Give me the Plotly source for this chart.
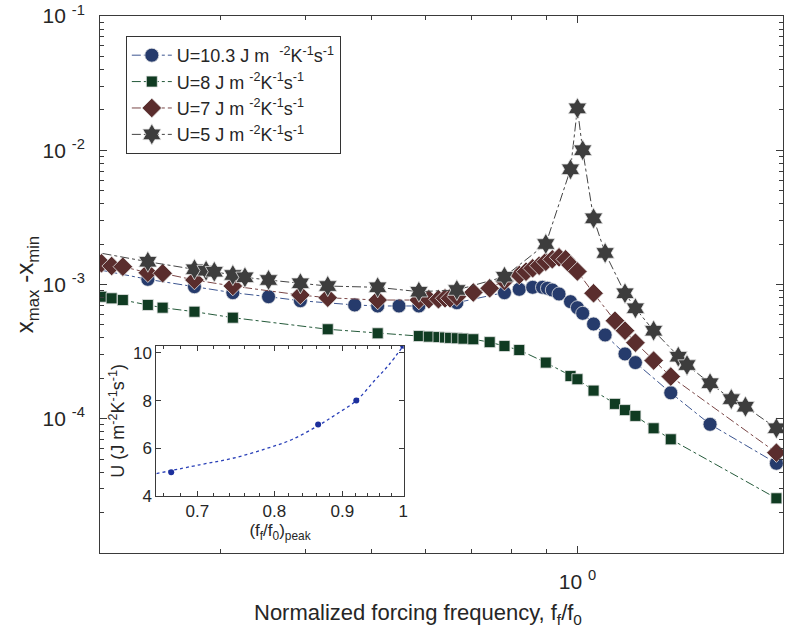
import numpy as np
import plotly.graph_objects as go

# ---------------- main data ----------------
f_u103 = [0.19, 0.235, 0.275, 0.313, 0.353, 0.393, 0.472, 0.510, 0.548, 0.586, 0.666, 0.782, 0.822, 0.860,
          0.889, 0.904, 0.919, 0.940, 0.977, 1.0, 1.018, 1.056, 1.098, 1.174, 1.216, 1.370, 1.564, 1.956]
a_u103 = [1.35, 1.093, 0.963, 0.869, 0.811, 0.757, 0.704, 0.692, 0.692, 0.692, 0.732, 0.869, 0.921, 0.953,
          0.953, 0.937, 0.910, 0.850, 0.745, 0.672, 0.610, 0.508, 0.421, 0.304, 0.262, 0.156, 0.0909, 0.0466]

f_u8 = [0.201, 0.208, 0.216, 0.235, 0.247, 0.275, 0.313, 0.431, 0.510, 0.586, 0.606, 0.626, 0.640, 0.651,
        0.666, 0.681, 0.704, 0.744, 0.782, 0.822, 0.899, 0.977, 1.0, 1.056, 1.135, 1.174, 1.216, 1.293, 1.370, 1.956]
a_u8 = [0.811, 0.789, 0.766, 0.704, 0.672, 0.627, 0.566, 0.464, 0.433, 0.413, 0.409, 0.406, 0.403, 0.400,
        0.398, 0.395, 0.391, 0.372, 0.348, 0.325, 0.262, 0.208, 0.197, 0.162, 0.129, 0.116, 0.105, 0.0849, 0.0703, 0.02555]

f_u7 = [0.201, 0.208, 0.216, 0.235, 0.247, 0.275, 0.313, 0.393, 0.431, 0.510, 0.586, 0.606, 0.626, 0.640,
        0.651, 0.666, 0.704, 0.744, 0.782, 0.822, 0.841, 0.860, 0.879, 0.899, 0.919, 0.940, 0.961, 0.977,
        1.0, 1.056, 1.135, 1.174, 1.216, 1.293, 1.370, 1.956]
a_u7 = [1.438, 1.373, 1.357, 1.224, 1.212, 1.080, 0.974, 0.835, 0.797, 0.766, 0.766, 0.776, 0.776, 0.789,
        0.789, 0.811, 0.872, 0.937, 1.06, 1.177, 1.245, 1.32, 1.38, 1.478, 1.54, 1.594, 1.54, 1.397,
        1.25, 0.860, 0.537, 0.453, 0.369, 0.271, 0.206, 0.0559]

f_u5 = [0.19, 0.235, 0.275, 0.286, 0.294, 0.313, 0.326, 0.353, 0.393, 0.431, 0.510, 0.586, 0.666, 0.782,
        0.899, 0.977, 1.0, 1.018, 1.056, 1.098, 1.174, 1.216, 1.293, 1.405, 1.447, 1.564, 1.680, 1.762, 1.956]
a_u5 = [1.80, 1.478, 1.297, 1.267, 1.245, 1.177, 1.131, 1.080, 1.021, 0.974, 0.953, 0.884, 0.910, 1.143,
        2.003, 7.21, 20.5, 10.0, 3.11, 1.717, 0.860, 0.665, 0.453, 0.290, 0.251, 0.184, 0.140, 0.123, 0.0849]

# ---------------- inset data ----------------
peak_f = [0.669, 0.863, 0.922, 1.0]
peak_U = [5, 7, 8, 10.3]
fit_f = [0.652, 0.703, 0.744, 0.788, 0.825, 0.863, 0.889, 0.922, 0.952, 0.975, 1.0]
fit_U = [4.94, 5.31, 5.58, 5.98, 6.37, 6.95, 7.40, 8.0, 8.85, 9.48, 10.29]

labels = ["U=10.3 J m\u00a0\u00a0<sup>-2</sup>K<sup>-1</sup>s<sup>-1</sup>",
          "U=8 J m\u00a0<sup>-2</sup>K<sup>-1</sup>s<sup>-1</sup>",
          "U=7 J m\u00a0<sup>-2</sup>K<sup>-1</sup>s<sup>-1</sup>",
          "U=5 J m\u00a0<sup>-2</sup>K<sup>-1</sup>s<sup>-1</sup>"]

y_ticks = [1e-4, 1e-3, 1e-2, 1e-1]
y_ticktext = ["10\u00a0<sup>-4</sup>", "10\u00a0<sup>-3</sup>", "10\u00a0<sup>-2</sup>", "10\u00a0<sup>-1</sup>"]

FONT = "Liberation Sans, Arial, Helvetica, sans-serif"
AX = "#3a3a3a"

series = [
    (f_u103, a_u103, labels[0], "circle", 14, "#263b6c", "#3c5590"),
    (f_u8, a_u8, labels[1], "square", 11, "#103b22", "#245a3a"),
    (f_u7, a_u7, labels[2], "diamond", 15, "#5a2d2d", "#7a4646"),
    (f_u5, a_u5, labels[3], "hexagram", 16, "#3d3d3d", "#444444"),
]

fig = go.Figure()
for f, a, name, sym, sz, mc, lc in series:
    fig.add_trace(go.Scatter(
        x=f, y=[v * 1e-3 for v in a], name=name, mode="lines+markers",
        line=dict(color=lc, width=1, dash="dashdot"),
        marker=dict(symbol=sym, size=sz, color=mc, line=dict(color="#e6e6e6", width=0.8)),
        xaxis="x", yaxis="y"))

fig.add_trace(go.Scatter(x=fit_f, y=fit_U, mode="lines",
                         line=dict(color="#2a40b8", width=1.3, dash="3px,3px", shape="spline"),
                         showlegend=False, xaxis="x2", yaxis="y2"))
fig.add_trace(go.Scatter(x=peak_f, y=peak_U, mode="markers", marker=dict(color="#1c2f9c", size=6),
                         showlegend=False, xaxis="x2", yaxis="y2"))

ymin = [m * 10.0 ** e for e in range(-5, -1) for m in range(2, 10)]
xmin = [0.3, 0.4, 0.5, 0.6, 0.7, 0.8, 0.9]

fig.update_layout(
    width=789, height=635,
    margin=dict(l=100, r=2, t=16, b=82),
    paper_bgcolor="white", plot_bgcolor="white",
    font=dict(family=FONT, color="#262626"),
    xaxis=dict(type="log", range=[np.log10(0.2), np.log10(2.0)], domain=[0, 1],
               tickvals=[1.0], ticktext=["10\u00a0<sup>0</sup>"], ticks="inside", ticklen=7,
               tickcolor=AX, showline=True, linecolor=AX, linewidth=1, mirror="ticks",
               showgrid=False, zeroline=False, tickfont=dict(size=21), ticklabelstandoff=10,
               minor=dict(tickvals=xmin, ticks="inside", ticklen=4, tickcolor=AX, showgrid=False)),
    yaxis=dict(type="log", range=[-5, -1], domain=[0, 1],
               tickvals=y_ticks, ticktext=y_ticktext,
               ticks="inside", ticklen=7, tickcolor=AX, showline=True, linecolor=AX, linewidth=1,
               mirror="ticks", showgrid=False, zeroline=False, tickfont=dict(size=21), ticklabelstandoff=10,
               minor=dict(tickvals=ymin, ticks="inside", ticklen=4, tickcolor=AX, showgrid=False),
               title=dict(text="x<sub>max</sub> -x<sub>min</sub>", font=dict(size=24), standoff=0)),
    xaxis2=dict(type="log", range=[np.log10(0.652), np.log10(1.001)], domain=[0.0825, 0.4447], anchor="y2",
                tickvals=[0.7, 0.8, 0.9, 1.0], ticktext=["0.7", "0.8", "0.9", "1"],
                ticks="inside", ticklen=5, tickcolor=AX, showline=True, linecolor=AX, linewidth=1,
                mirror="ticks", showgrid=False, zeroline=False, tickfont=dict(size=17),
                minor=dict(tickvals=[0.66, 0.68, 0.72, 0.74, 0.76, 0.78, 0.82, 0.84, 0.86, 0.88, 0.92, 0.94, 0.96, 0.98],
                           ticks="inside", ticklen=3, tickcolor=AX, showgrid=False),
                title=dict(text="(f<sub>f</sub>/f<sub>0</sub>)<sub>peak</sub>", font=dict(size=17), standoff=2)),
    yaxis2=dict(range=[4, 10.3], domain=[0.1061, 0.386], anchor="x2",
                tickvals=[4, 6, 8, 10], ticks="inside", ticklen=5, tickcolor=AX, showline=True,
                linecolor=AX, linewidth=1, mirror="ticks", showgrid=False, zeroline=False,
                tickfont=dict(size=17),
                title=dict(text="U (J m<sup>-2</sup>K<sup>-1</sup>s<sup>-1</sup>)", font=dict(size=18), standoff=3)),
    legend=dict(x=0.0378, y=0.9628, xanchor="left", yanchor="top", bgcolor="white",
                bordercolor="#333333", borderwidth=1, font=dict(size=18), tracegroupgap=3,
                itemwidth=40),
    showlegend=True,
    annotations=[dict(text="Normalized forcing frequency, f<sub>f</sub>/f<sub>0</sub>",
                      xref="paper", yref="paper", x=0.466, y=-0.083, xanchor="center", yanchor="top",
                      showarrow=False, font=dict(size=22))],
)

fig.write_html("out.html")
